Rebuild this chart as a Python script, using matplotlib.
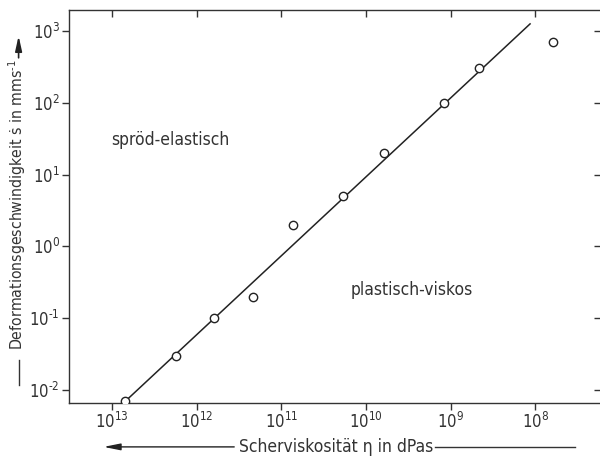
import numpy as np
import matplotlib
matplotlib.use("Agg")
import matplotlib.pyplot as plt

# measured points (viscosity in dPas, strain rate in mm/s)
eta = [7.0e12, 1.77e12, 6.3e11, 2.17e11, 7.3e10, 1.85e10, 6.1e9, 1.19e9, 4.6e8, 6.1e7]
rate = [0.007, 0.03, 0.1, 0.2, 2.0, 5.0, 20.0, 100.0, 300.0, 700.0]

# fitted line, two end points
fit_eta = [7.0e12, 1.15e8]
fit_rate = [0.007, 1250.0]

xticks = [1e13, 1e12, 1e11, 1e10, 1e9, 1e8]
xticklabels = ["$10^{13}$", "$10^{12}$", "$10^{11}$", "$10^{10}$", "$10^{9}$", "$10^{8}$"]
yticks = [1e-2, 1e-1, 1e0, 1e1, 1e2, 1e3]
# short hyphen instead of the wide minus sign
yticklabels = ["$10^{\u20102}$", "$10^{\u20101}$", "$10^{0}$", "$10^{1}$", "$10^{2}$", "$10^{3}$"]

plt.rcParams["font.family"] = ["DejaVu Sans"]
plt.rcParams["font.stretch"] = "condensed"
plt.rcParams["mathtext.fontset"] = "custom"
plt.rcParams["mathtext.rm"] = "DejaVu Sans:stretch=condensed"
plt.rcParams["mathtext.it"] = "DejaVu Sans:stretch=condensed"

fig = plt.figure(figsize=(6.0, 4.66), dpi=100)
ax = fig.add_axes([0.115, 0.135, 0.887, 0.8435])

ax.set_xscale("log")
ax.set_yscale("log")
ax.set_xlim(10 ** 13.51, 10 ** 7.22)
ax.set_ylim(10 ** -2.18, 10 ** 3.29)

ax.plot(fit_eta, fit_rate, color="#222222", lw=1.1, zorder=2)
ax.plot(eta, rate, ls="none", marker="o", ms=6, mfc="white", mec="#222222",
        mew=1.0, zorder=3)

ax.set_xticks(xticks)
ax.set_xticklabels(xticklabels, fontsize=12, color="#333333")
ax.set_yticks(yticks)
ax.set_yticklabels(yticklabels, fontsize=12, color="#333333")
ax.minorticks_off()
ax.tick_params(axis="both", which="major", direction="out", length=5, width=1.0,
               color="#333333", pad=1.5)
ax.tick_params(top=True, right=True)
for t in ax.xaxis.get_major_ticks():
    t.tick2line.set_marker(matplotlib.markers.TICKDOWN)
for t in ax.yaxis.get_major_ticks():
    t.tick2line.set_marker(matplotlib.markers.TICKLEFT)
for s in ax.spines.values():
    s.set_color("#333333")
    s.set_linewidth(1.0)
ax.spines["right"].set_visible(False)

ax.text(0.19, 0.669, "spröd-elastisch", transform=ax.transAxes, fontsize=12.5,
        color="#333333", ha="center", va="center")
ax.text(0.644, 0.288, "plastisch-viskos", transform=ax.transAxes, fontsize=12.5,
        color="#333333", ha="center", va="center")

# y label with arrow
fig.text(0.028, 0.56, "Deformationsgeschwindigkeit \u1e61 in mms$^{\u20101}$", rotation=90,
         ha="center", va="center", fontsize=11.3, color="#333333")
fig.add_artist(plt.Line2D([0.031, 0.031], [0.174, 0.227], color="#333333", lw=1.0))
ax.annotate("", xy=(0.031, 0.929), xycoords="figure fraction",
            xytext=(0.031, 0.87), textcoords="figure fraction",
            arrowprops=dict(arrowstyle="-|>,head_length=0.9,head_width=0.2",
                            color="#222222", lw=1.2))

# x label with arrow
fig.text(0.56, 0.041, "Scherviskosität \u03b7 in dPas", ha="center", va="center",
         fontsize=12.5, color="#333333")
ax.annotate("", xy=(0.168, 0.041), xycoords="figure fraction",
            xytext=(0.395, 0.041), textcoords="figure fraction",
            arrowprops=dict(arrowstyle="-|>,head_length=1.0,head_width=0.2",
                            color="#222222", lw=1.0))
fig.add_artist(plt.Line2D([0.725, 0.958], [0.041, 0.041], color="#333333", lw=1.0))

fig.savefig("out.png", dpi=100, facecolor="white")
